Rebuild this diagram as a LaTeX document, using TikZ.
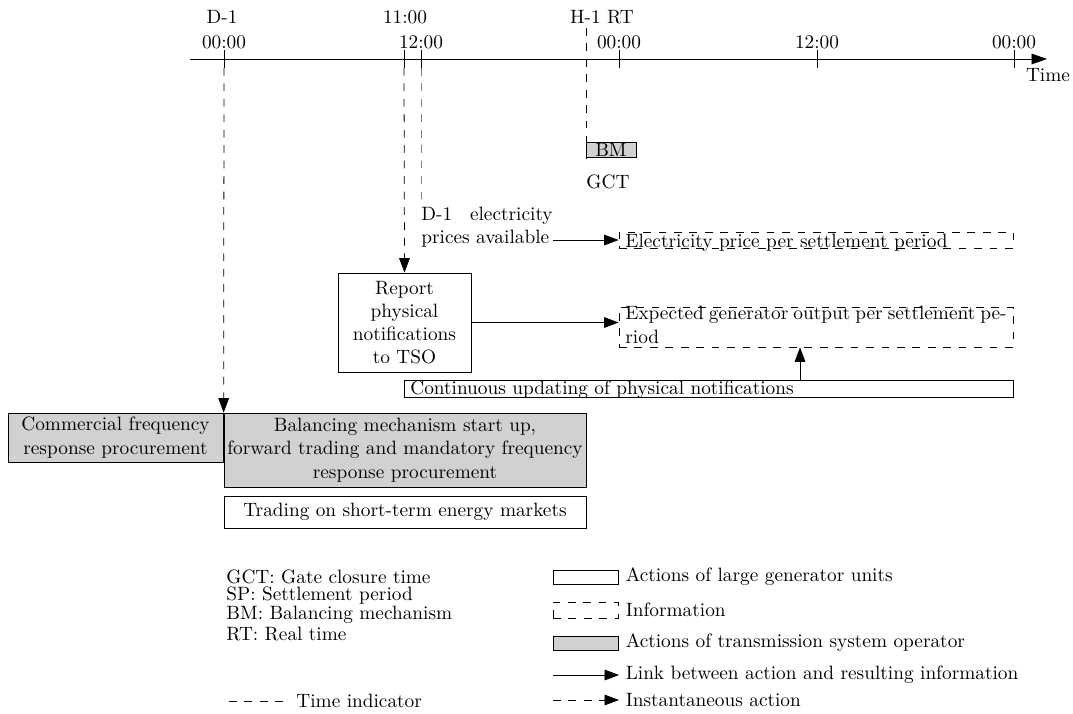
\documentclass[tikz,border=0pt]{standalone}
\usepackage{amsmath, amssymb}
\usetikzlibrary{arrows.meta}

\begin{document}
\begin{tikzpicture}[x=0.518pt, y=-0.518pt,
		tip/.style={-{Triangle[length=7.5pt, width=5.5pt]}},
		link/.style={tip},
		instant/.style={tip, dash pattern=on 4pt off 4pt},
		tind/.style={dash pattern=on 4pt off 4pt},
		genbox/.style={draw, fill=white, align=center, inner sep=0pt},
		tsobox/.style={draw, fill=black!18, align=center, inner sep=0pt},
		infobox/.style={draw, dash pattern=on 4pt off 4pt, inner xsep=3.3pt, inner ysep=0pt},
		lbl/.style={inner sep=0pt}]
	\useasboundingbox (0,0) rectangle (1073,713);
			\coordinate (t0) at (190,59);
			\coordinate (t1) at (1047,59);
			\draw[-{Triangle[length=8pt, width=5.5pt]}] (t0)--(t1);
			\node (time) at (1048,75) {Time};
			\draw ( 224 , 50 )--( 224 , 68 );
			\draw ( 404 , 50 )--( 404 , 68 );
			\draw ( 421 , 50 )--( 421 , 68 );
			\draw ( 619 , 50 )--( 619 , 68 );
			\draw ( 817 , 50 )--( 817 , 68 );
			\draw ( 1014 , 50 )--( 1014 , 68 );
			\node[lbl] (dd) at ( 222 , 17 ) {D-1};
			\node[lbl] (d00) at ( 224 , 42 ) {00:00};
			\node[lbl] (h11) at ( 405 , 17 ) {11:00};
			\node[lbl] (h12) at ( 421 , 42 ) {12:00};
			\node[lbl] (hrt) at ( 602 , 17 ) {H-1 RT};
			\node[lbl] (r00) at ( 619 , 42 ) {00:00};
			\node[lbl] (r12) at ( 817 , 42 ) {12:00};
			\node[lbl] (r24) at ( 1014 , 42 ) {00:00};

			\coordinate (gct0) at (586,28);
			\coordinate (gct1) at (586,165);
			\draw[tind] (gct0)--(gct1);
			\node[tsobox, minimum width=25.9pt, minimum height=7.8pt, text height=6.8pt, text depth=0pt] (bm) at (611,149.5) {BM};
			\node[lbl] (gct) at (608,182) {GCT};

			\node[lbl, anchor=north west, text width=68pt, align=justify] (pricetxt) at (421,207) {D-1 electricity prices available};
			\node[infobox, minimum width=204.1pt, minimum height=8.3pt, text width=197.5pt, align=left, text height=8pt, text depth=0pt] (price) at (816,240) {Electricity price per settlement period};
			\node[genbox, minimum width=68.9pt, minimum height=51.3pt] (report) at (404.5,322.5) {Report\\ physical\\ notifications\\ to TSO};
			\node[infobox, minimum width=204.1pt, minimum height=20.7pt, text width=197.5pt, align=justify, text height=6.7pt, text depth=14pt] (expect) at (816,327) {Expected generator output per settlement period};
			\node[genbox, inner xsep=3.3pt, minimum width=315.5pt, minimum height=8.8pt, text width=308.9pt, align=left, text height=7.3pt, text depth=1.5pt] (cont) at (708.5,388.5) {Continuous updating of physical notifications};
			\node[tsobox, minimum width=111.4pt, minimum height=25.4pt] (comm) at (115.5,437.5) {Commercial frequency\\ response procurement};
			\node[tsobox, minimum width=187.5pt, minimum height=38.3pt] (bal) at (405,450) {Balancing mechanism start up,\\ forward trading and mandatory frequency\\ response procurement};
			\node[genbox, minimum width=187.5pt, minimum height=16.6pt] (trade) at (405,512) {Trading on short-term energy markets};

			\coordinate (d1) at (224,68);
			\coordinate (i11) at (404,68);
			\coordinate (i12) at (421,68);
			\coordinate (upd) at (800,388);
			\draw[instant] (d1)--(bal.north west);
			\draw[instant] (i11)--(report.north);
			\draw[tind, gray] (i12)--(pricetxt.north west);
			\draw[link] (pricetxt.east |- price.west)--(price.west);
			\draw[link] (report.east)--(report.east -| expect.west);
			\draw[link] (cont.north -| upd)--(expect.south -| upd);

			\node[lbl, anchor=west] (lgct) at ( 226 , 577 ) {GCT: Gate closure time};
			\node[lbl, anchor=west] (lsp) at ( 226 , 596 ) {SP: Settlement period};
			\node[lbl, anchor=west] (lbm) at ( 226 , 615 ) {BM: Balancing mechanism};
			\node[lbl, anchor=west] (lrt) at ( 226 , 634 ) {RT: Real time};
			\coordinate (lti) at (229,701);
			\node[lbl, anchor=west] (ltitxt) at ( 296 , 701 ) {Time indicator};
			\draw[tind, shorten >=5pt] (lti)--(ltitxt.west);

			\node[genbox, minimum width=33.7pt, minimum height=7.3pt] (lgen) at (585.5,577) {};
			\node[infobox, minimum width=33.7pt, minimum height=8.3pt] (linfo) at (585.5,610) {};
			\node[tsobox, minimum width=33.7pt, minimum height=7.3pt] (ltso) at (585.5,643) {};
			\node[anchor=west] (lgentxt) at (619,577) {Actions of large generator units};
			\node[anchor=west] (linfotxt) at (619,610) {Information};
			\node[anchor=west] (ltsotxt) at (619,643) {Actions of transmission system operator};
			\coordinate (llk) at (553,675);
			\coordinate (lin) at (553,700);
			\node[anchor=west] (llktxt) at (619,675) {Link between action and resulting information};
			\node[anchor=west] (lintxt) at (619,700) {Instantaneous action};
			\draw[link] (llk)--(llktxt.west);
			\draw[instant] (lin)--(lintxt.west);
		\end{tikzpicture}
\end{document}
